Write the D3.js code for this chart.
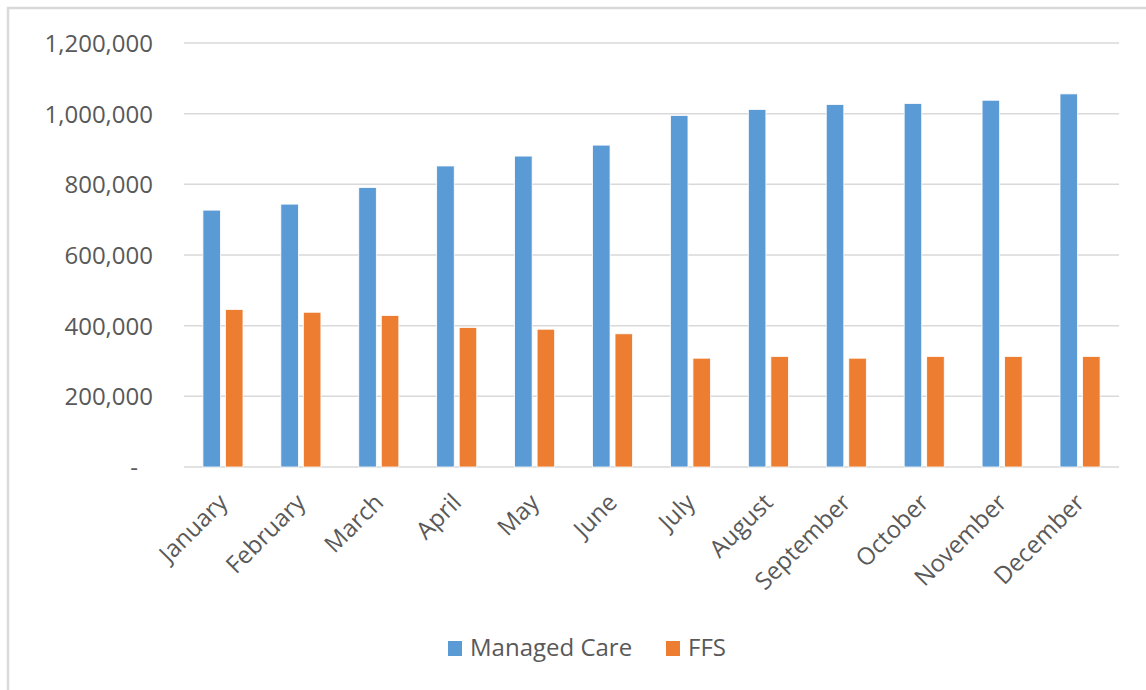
<!DOCTYPE html>
<html>
<head>
<meta charset="utf-8">
<script src="https://cdn.jsdelivr.net/npm/d3@7"></script>
<style>
  body { margin: 0; background: #fff; }
  svg { display: block; font-family: "Open Sans", "Noto Sans", sans-serif; }
  .grid line { stroke: #d9d9d9; stroke-width: 1.5; }
  .axis text { fill: #595959; }
</style>
</head>
<body>
<svg id="chart" width="1146" height="690"></svg>
<script>
/* chart data */
var months = ["January", "February", "March", "April", "May", "June",
              "July", "August", "September", "October", "November", "December"];
var seriesNames = ["Managed Care", "FFS"];
var managedCare = [727000, 744000, 791000, 852000, 880000, 911000,
                   995000, 1012000, 1026000, 1029000, 1038000, 1056000];
var ffs = [446000, 438000, 429000, 395000, 390000, 377000,
           308000, 313000, 308000, 313000, 313000, 313000];
var yTicks = [0, 200000, 400000, 600000, 800000, 1000000, 1200000];
var colors = ["#5b9bd5", "#ed7d31"];

var fontFamily = "'Open Sans', 'Noto Sans', sans-serif";
var svg = d3.select("#chart");

/* outer frame like the Excel chart area */
svg.append("rect")
    .attr("x", 8).attr("y", 8)
    .attr("width", 1160).attr("height", 700)
    .attr("fill", "none")
    .attr("stroke", "#d9d9d9")
    .attr("stroke-width", 2.5);

var margin = {top: 43, left: 184, right: 27, bottom: 223},
    width = 1146 - margin.left - margin.right,
    height = 690 - margin.top - margin.bottom;

var g = svg.append("g")
    .attr("transform", "translate(" + margin.left + "," + margin.top + ")");

var x0 = d3.scaleBand().domain(months).range([0, width]).padding(0);
var x1 = d3.scaleBand().domain(seriesNames).range([0, x0.bandwidth()])
    .paddingInner(0.22).paddingOuter(0.84);
var y = d3.scaleLinear().domain([0, 1200000]).range([height, 0]);

/* horizontal gridlines */
g.append("g")
    .attr("class", "grid")
    .selectAll("line")
    .data(yTicks)
    .enter().append("line")
      .attr("x1", 0).attr("x2", width)
      .attr("y1", function(d) { return y(d); })
      .attr("y2", function(d) { return y(d); });

/* y axis labels */
var yAxis = g.append("g")
    .attr("class", "axis axis--y")
    .call(d3.axisLeft(y).tickValues(yTicks).tickSize(0).tickPadding(31)
      .tickFormat(function(d) { return d === 0 ? "-" : d3.format(",")(d); }));
yAxis.attr("font-family", fontFamily).attr("font-size", 24);
yAxis.select(".domain").remove();
yAxis.selectAll("text")
    .attr("dy", "0.35em")
    .attr("x", function(d) { return d === 0 ? -46 : -31; });

/* bars */
var rows = months.map(function(m, i) {
  return {month: m, values: [managedCare[i], ffs[i]]};
});

var groups = g.selectAll(".month")
  .data(rows)
  .enter().append("g")
    .attr("class", "month")
    .attr("transform", function(d) { return "translate(" + x0(d.month) + ",0)"; });

groups.selectAll("rect")
  .data(function(d) { return d.values.map(function(v, j) { return {key: seriesNames[j], value: v, idx: j}; }); })
  .enter().append("rect")
    .attr("x", function(d) { return x1(d.key); })
    .attr("y", function(d) { return y(d.value); })
    .attr("width", x1.bandwidth())
    .attr("height", function(d) { return height - y(d.value); })
    .attr("fill", function(d) { return colors[d.idx]; })
    .attr("stroke", "#fff")
    .attr("stroke-width", 0.8);

/* x axis labels, rotated */
var xAxis = g.append("g")
    .attr("class", "axis axis--x")
    .attr("transform", "translate(0," + height + ")")
    .call(d3.axisBottom(x0).tickSize(0).tickPadding(0));
xAxis.attr("font-family", fontFamily).attr("font-size", 24);
xAxis.select(".domain").remove();
xAxis.selectAll("text")
    .attr("text-anchor", "end")
    .attr("dy", "0")
    .attr("y", 0)
    .attr("transform", "translate(6,37) rotate(-45)");

/* legend */
var legend = svg.append("g").attr("transform", "translate(448,641)");
var legendX = [0, 218];
seriesNames.forEach(function(name, i) {
  var item = legend.append("g").attr("transform", "translate(" + legendX[i] + ",0)");
  item.append("rect")
      .attr("width", 14).attr("height", 15)
      .attr("fill", colors[i]);
  item.append("text")
      .attr("x", 22).attr("y", 15)
      .attr("fill", "#595959")
      .attr("font-family", fontFamily)
      .attr("font-size", 24)
      .text(name);
});
</script>
</body>
</html>
